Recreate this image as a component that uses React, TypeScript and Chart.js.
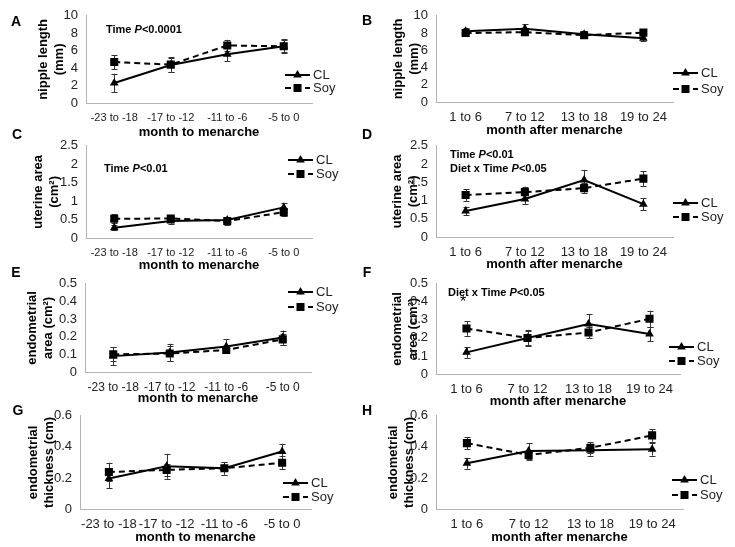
import React, { useEffect, useRef } from 'react';
import { Chart, registerables } from 'chart.js';

Chart.register(...registerables);

const FONT = "'Liberation Sans', Arial, Helvetica, sans-serif";

// ---------- data ----------
const monthToMenarche = ['-23 to -18', '-17 to -12', '-11 to -6', '-5 to 0'];
const monthAfterMenarche = ['1 to 6', '7 to 12', '13 to 18', '19 to 24'];
const seriesNames = ['CL', 'Soy'];

// A: nipple length (mm), before menarche
const nippleBeforeCL = [2.3, 4.35, 5.6, 6.5];
const nippleBeforeCLErr = [1.05, 0.85, 0.8, 0.8];
const nippleBeforeSoy = [4.7, 4.4, 6.6, 6.5];
const nippleBeforeSoyErr = [0.8, 0.85, 0.65, 0.7];
// B: nipple length (mm), after menarche
const nippleAfterCL = [8.2, 8.5, 7.85, 7.4];
const nippleAfterCLErr = [0.35, 0.5, 0.35, 0.35];
const nippleAfterSoy = [8.0, 8.1, 7.75, 8.05];
const nippleAfterSoyErr = [0.3, 0.3, 0.3, 0.3];
// C: uterine area (cm2), before menarche
const uterineBeforeCL = [0.28, 0.46, 0.49, 0.83];
const uterineBeforeCLErr = [0.07, 0.07, 0.06, 0.12];
const uterineBeforeSoy = [0.52, 0.53, 0.46, 0.7];
const uterineBeforeSoyErr = [0.12, 0.08, 0.1, 0.1];
// D: uterine area (cm2), after menarche
const uterineAfterCL = [0.71, 1.04, 1.56, 0.9];
const uterineAfterCLErr = [0.12, 0.14, 0.28, 0.17];
const uterineAfterSoy = [1.15, 1.23, 1.34, 1.6];
const uterineAfterSoyErr = [0.16, 0.15, 0.13, 0.2];
// E: endometrial area (cm2), before menarche
const endoAreaBeforeCL = [0.09, 0.11, 0.145, 0.195];
const endoAreaBeforeCLErr = [0.05, 0.05, 0.04, 0.04];
const endoAreaBeforeSoy = [0.1, 0.105, 0.125, 0.185];
const endoAreaBeforeSoyErr = [0.04, 0.04, 0.02, 0.03];
// F: endometrial area (cm2), after menarche
const endoAreaAfterCL = [0.12, 0.2, 0.277, 0.222];
const endoAreaAfterCLErr = [0.03, 0.045, 0.055, 0.04];
const endoAreaAfterSoy = [0.252, 0.2, 0.23, 0.306];
const endoAreaAfterSoyErr = [0.04, 0.04, 0.03, 0.045];
// G: endometrial thickness (cm), before menarche
const endoThickBeforeCL = [0.197, 0.275, 0.262, 0.37];
const endoThickBeforeCLErr = [0.065, 0.08, 0.04, 0.05];
const endoThickBeforeSoy = [0.238, 0.252, 0.262, 0.298];
const endoThickBeforeSoyErr = [0.06, 0.04, 0.04, 0.04];
// H: endometrial thickness (cm), after menarche
const endoThickAfterCL = [0.294, 0.374, 0.378, 0.384];
const endoThickAfterCLErr = [0.035, 0.05, 0.035, 0.04];
const endoThickAfterSoy = [0.424, 0.348, 0.394, 0.474];
const endoThickAfterSoyErr = [0.04, 0.03, 0.035, 0.04];

// ---------- panel layout ----------
type PanelCfg = {
  letter: string;
  categories: string[];
  cl: number[]; clErr: number[]; soy: number[]; soyErr: number[];
  yMax: number; yStep: number; yTitle: string[]; xTitle: string;
  cx: number; cy: number; cw: number; ch: number;
  plotLeft: number; plotRight: number; plotTop: number; plotBottom: number;
  yTitlePad: number; xTickSize: number; yTickSize: number;
  legendX: number; legendY1: number; legendY2: number;
};

const panels: PanelCfg[] = [
  { letter: 'A', categories: monthToMenarche, cl: nippleBeforeCL, clErr: nippleBeforeCLErr, soy: nippleBeforeSoy, soyErr: nippleBeforeSoyErr,
    yMax: 10, yStep: 2, yTitle: ['nipple length', '(mm)'], xTitle: 'month to menarche',
    cx: 0, cy: 0, cw: 345, ch: 140, plotLeft: 86, plotRight: 312, plotTop: 10, plotBottom: 103,
    yTitlePad: 35, xTickSize: 11, yTickSize: 13, legendX: 285, legendY1: 75, legendY2: 88 },
  { letter: 'B', categories: monthAfterMenarche, cl: nippleAfterCL, clErr: nippleAfterCLErr, soy: nippleAfterSoy, soyErr: nippleAfterSoyErr,
    yMax: 10, yStep: 2, yTitle: ['nipple length', '(mm)'], xTitle: 'month after menarche',
    cx: 365, cy: 0, cw: 370, ch: 138, plotLeft: 436, plotRight: 673, plotTop: 15, plotBottom: 102,
    yTitlePad: 25, xTickSize: 13, yTickSize: 13, legendX: 673, legendY1: 73, legendY2: 89 },
  { letter: 'C', categories: monthToMenarche, cl: uterineBeforeCL, clErr: uterineBeforeCLErr, soy: uterineBeforeSoy, soyErr: uterineBeforeSoyErr,
    yMax: 2.5, yStep: 0.5, yTitle: ['uterine area', '(cm²)'], xTitle: 'month to menarche',
    cx: 0, cy: 130, cw: 345, ch: 143, plotLeft: 86, plotRight: 312, plotTop: 142, plotBottom: 238,
    yTitlePad: 30, xTickSize: 11, yTickSize: 13, legendX: 288, legendY1: 160, legendY2: 174 },
  { letter: 'D', categories: monthAfterMenarche, cl: uterineAfterCL, clErr: uterineAfterCLErr, soy: uterineAfterSoy, soyErr: uterineAfterSoyErr,
    yMax: 2.5, yStep: 0.5, yTitle: ['uterine area', '(cm²)'], xTitle: 'month after menarche',
    cx: 365, cy: 130, cw: 370, ch: 142, plotLeft: 436, plotRight: 673, plotTop: 139, plotBottom: 237,
    yTitlePad: 24, xTickSize: 13, yTickSize: 13, legendX: 673, legendY1: 203, legendY2: 217 },
  { letter: 'E', categories: monthToMenarche, cl: endoAreaBeforeCL, clErr: endoAreaBeforeCLErr, soy: endoAreaBeforeSoy, soyErr: endoAreaBeforeSoyErr,
    yMax: 0.5, yStep: 0.1, yTitle: ['endometrial', 'area (cm²)'], xTitle: 'month to menarche',
    cx: 0, cy: 268, cw: 345, ch: 138, plotLeft: 85, plotRight: 311, plotTop: 277, plotBottom: 372,
    yTitlePad: 24, xTickSize: 12, yTickSize: 13, legendX: 288, legendY1: 292, legendY2: 307 },
  { letter: 'F', categories: monthAfterMenarche, cl: endoAreaAfterCL, clErr: endoAreaAfterCLErr, soy: endoAreaAfterSoy, soyErr: endoAreaAfterSoyErr,
    yMax: 0.5, yStep: 0.1, yTitle: ['endometrial', 'area (cm²)'], xTitle: 'month after menarche',
    cx: 365, cy: 268, cw: 370, ch: 141, plotLeft: 436, plotRight: 680, plotTop: 277, plotBottom: 374,
    yTitlePad: 24, xTickSize: 13, yTickSize: 13, legendX: 669, legendY1: 347, legendY2: 361 },
  { letter: 'G', categories: monthToMenarche, cl: endoThickBeforeCL, clErr: endoThickBeforeCLErr, soy: endoThickBeforeSoy, soyErr: endoThickBeforeSoyErr,
    yMax: 0.6, yStep: 0.2, yTitle: ['endometrial', 'thickness (cm)'], xTitle: 'month to menarche',
    cx: 0, cy: 400, cw: 345, ch: 145, plotLeft: 80, plotRight: 311, plotTop: 410, plotBottom: 509,
    yTitlePad: 25, xTickSize: 13, yTickSize: 13, legendX: 283, legendY1: 483, legendY2: 497 },
  { letter: 'H', categories: monthAfterMenarche, cl: endoThickAfterCL, clErr: endoThickAfterCLErr, soy: endoThickAfterSoy, soyErr: endoThickAfterSoyErr,
    yMax: 0.6, yStep: 0.2, yTitle: ['endometrial', 'thickness (cm)'], xTitle: 'month after menarche',
    cx: 365, cy: 400, cw: 370, ch: 145, plotLeft: 436, plotRight: 683, plotTop: 408, plotBottom: 509,
    yTitlePad: 20, xTickSize: 13, yTickSize: 13, legendX: 672, legendY1: 480, legendY2: 495 },
];

// ---------- drawing helpers ----------
function drawTriangle(ctx: CanvasRenderingContext2D, x: number, y: number, r: number) {
  ctx.beginPath();
  for (let i = 0; i < 3; i++) {
    const a = -Math.PI / 2 + (i * 2 * Math.PI) / 3;
    const px = x + Math.cos(a) * r;
    const py = y + Math.sin(a) * r;
    if (i === 0) ctx.moveTo(px, py); else ctx.lineTo(px, py);
  }
  ctx.closePath();
  ctx.fill();
}
function drawSquare(ctx: CanvasRenderingContext2D, x: number, y: number, half: number) {
  ctx.fillRect(x - half, y - half, half * 2, half * 2);
}

const errorBarPlugin = {
  id: 'errorBars',
  beforeDatasetsDraw(chart: any) {
    const errs = chart.options.plugins.errorBars?.errors as number[][];
    if (!errs) return;
    const ctx = chart.ctx as CanvasRenderingContext2D;
    const yScale = chart.scales.y;
    ctx.save();
    ctx.strokeStyle = '#333';
    ctx.lineWidth = 1;
    chart.data.datasets.forEach((ds: any, di: number) => {
      const meta = chart.getDatasetMeta(di);
      ds.data.forEach((v: number, i: number) => {
        const e = errs[di][i];
        const x = Math.round(meta.data[i].x) + 0.5;
        const yTop = yScale.getPixelForValue(v + e);
        const yBot = yScale.getPixelForValue(v - e);
        ctx.beginPath();
        ctx.moveTo(x, yTop); ctx.lineTo(x, yBot);
        ctx.moveTo(x - 3, Math.round(yTop) + 0.5); ctx.lineTo(x + 3, Math.round(yTop) + 0.5);
        ctx.moveTo(x - 3, Math.round(yBot) + 0.5); ctx.lineTo(x + 3, Math.round(yBot) + 0.5);
        ctx.stroke();
      });
    });
    ctx.restore();
  },
};

const legendPlugin = {
  id: 'sideLegend',
  afterDraw(chart: any) {
    const o = chart.options.plugins.sideLegend;
    if (!o) return;
    const ctx = chart.ctx as CanvasRenderingContext2D;
    ctx.save();
    const entries = [
      { name: seriesNames[0], y: o.y1, dash: [] as number[], tri: true },
      { name: seriesNames[1], y: o.y2, dash: [6, 4], tri: false },
    ];
    entries.forEach((en) => {
      ctx.strokeStyle = '#000';
      ctx.fillStyle = '#000';
      ctx.lineWidth = 2;
      ctx.setLineDash(en.dash);
      ctx.beginPath();
      ctx.moveTo(o.x, en.y);
      ctx.lineTo(o.x + 25, en.y);
      ctx.stroke();
      ctx.setLineDash([]);
      if (en.tri) drawTriangle(ctx, o.x + 12.5, en.y, 5);
      else drawSquare(ctx, o.x + 12.5, en.y, 4);
      ctx.font = `13px ${FONT}`;
      ctx.textBaseline = 'middle';
      ctx.textAlign = 'left';
      ctx.fillStyle = '#222';
      ctx.fillText(en.name, o.x + 28, en.y + 0.5);
    });
    ctx.restore();
  },
};

function fmt(v: number) {
  return String(Number(v.toFixed(2)));
}

function Panel({ p }: { p: PanelCfg }) {
  const ref = useRef<HTMLCanvasElement | null>(null);
  useEffect(() => {
    if (!ref.current) return;
    const W = p.plotLeft - p.cx;
    const H = p.cy + p.ch - p.plotBottom;
    const T = p.plotTop - p.cy;
    const R = p.cx + p.cw - p.plotRight;
    const chart = new Chart(ref.current, {
      type: 'line',
      data: {
        labels: p.categories,
        datasets: [
          {
            label: seriesNames[0], data: p.cl, borderColor: '#000', backgroundColor: '#000', borderWidth: 2,
            pointStyle: 'triangle', pointRadius: 5, pointBorderWidth: 0, pointBackgroundColor: '#000', tension: 0,
          },
          {
            label: seriesNames[1], data: p.soy, borderColor: '#000', backgroundColor: '#000', borderWidth: 2, borderDash: [6, 4],
            pointStyle: 'rect', pointRadius: 5.7, pointBorderWidth: 0, pointBackgroundColor: '#000', tension: 0,
          },
        ],
      },
      options: {
        responsive: false,
        animation: false,
        events: [],
        layout: { padding: { left: 0, top: T, right: R, bottom: 0 } },
        plugins: {
          legend: { display: false },
          tooltip: { enabled: false },
          errorBars: { errors: [p.clErr, p.soyErr] },
          sideLegend: { x: p.legendX - p.cx, y1: p.legendY1 - p.cy, y2: p.legendY2 - p.cy },
        } as any,
        scales: {
          x: {
            type: 'category',
            offset: true,
            grid: { display: false, drawTicks: false },
            border: { display: true, color: '#b4b4b4', width: 1 },
            ticks: { font: { family: FONT, size: p.xTickSize }, color: '#222', padding: 8, maxRotation: 0, autoSkip: false },
            title: {
              display: true, text: p.xTitle, color: '#000',
              font: { family: FONT, size: 13, weight: 'bold', lineHeight: '16px' } as any,
              padding: { top: 0, bottom: 0 },
            },
            afterFit: (s: any) => { s.height = H; },
          },
          y: {
            min: 0, max: p.yMax,
            grid: { display: false, drawTicks: false },
            border: { display: true, color: '#b4b4b4', width: 1 },
            ticks: {
              stepSize: p.yStep, autoSkip: false, font: { family: FONT, size: p.yTickSize }, color: '#222', padding: 8,
              callback: (v: any) => fmt(Number(v)),
            },
            title: {
              display: true, text: p.yTitle, color: '#000',
              font: { family: FONT, size: 13, weight: 'bold', lineHeight: '16px' } as any,
              padding: { top: p.yTitlePad, bottom: 0 },
            },
            afterFit: (s: any) => { s.width = W; },
          },
        },
      },
      plugins: [errorBarPlugin, legendPlugin],
    } as any);
    return () => chart.destroy();
  }, [p]);
  return (
    <canvas
      ref={ref}
      width={p.cw}
      height={p.ch}
      style={{ position: 'absolute', left: p.cx, top: p.cy, width: p.cw, height: p.ch }}
    />
  );
}

const letterPos: { [k: string]: [number, number] } = {
  A: [16, 21], B: [367, 20], C: [17, 134], D: [367, 134], E: [16, 272], F: [367, 272], G: [18, 410], H: [367, 410],
};

const noteStyle = (left: number, cy: number): React.CSSProperties => ({
  position: 'absolute', left, top: cy - 7, lineHeight: '14px', fontSize: 11, fontWeight: 'bold',
  fontFamily: FONT, color: '#000', whiteSpace: 'nowrap',
});

export default function App() {
  return (
    <div style={{ position: 'fixed', left: 0, top: 0, width: 735, height: 547, background: '#fff', overflow: 'hidden' }}>
      {panels.map((p) => <Panel key={p.letter} p={p} />)}
      {panels.map((p) => (
        <div key={'l' + p.letter} style={{
          position: 'absolute', left: letterPos[p.letter][0] - 6, top: letterPos[p.letter][1] - 8, width: 12, textAlign: 'center',
          lineHeight: '16px', fontSize: 14, fontWeight: 'bold', fontFamily: FONT, color: '#000',
        }}>{p.letter}</div>
      ))}
      <div style={noteStyle(106, 29)}>Time <i>P</i>&lt;0.0001</div>
      <div style={noteStyle(104, 168)}>Time <i>P</i>&lt;0.01</div>
      <div style={noteStyle(450, 154)}>Time <i>P</i>&lt;0.01</div>
      <div style={noteStyle(450, 168)}>Diet x Time <i>P</i>&lt;0.05</div>
      <div style={noteStyle(448, 292)}>Diet x Time <i>P</i>&lt;0.05</div>
      <div style={{ position: 'absolute', left: 460, top: 294, fontSize: 16, lineHeight: '16px', fontFamily: FONT, color: '#000' }}>*</div>
    </div>
  );
}
